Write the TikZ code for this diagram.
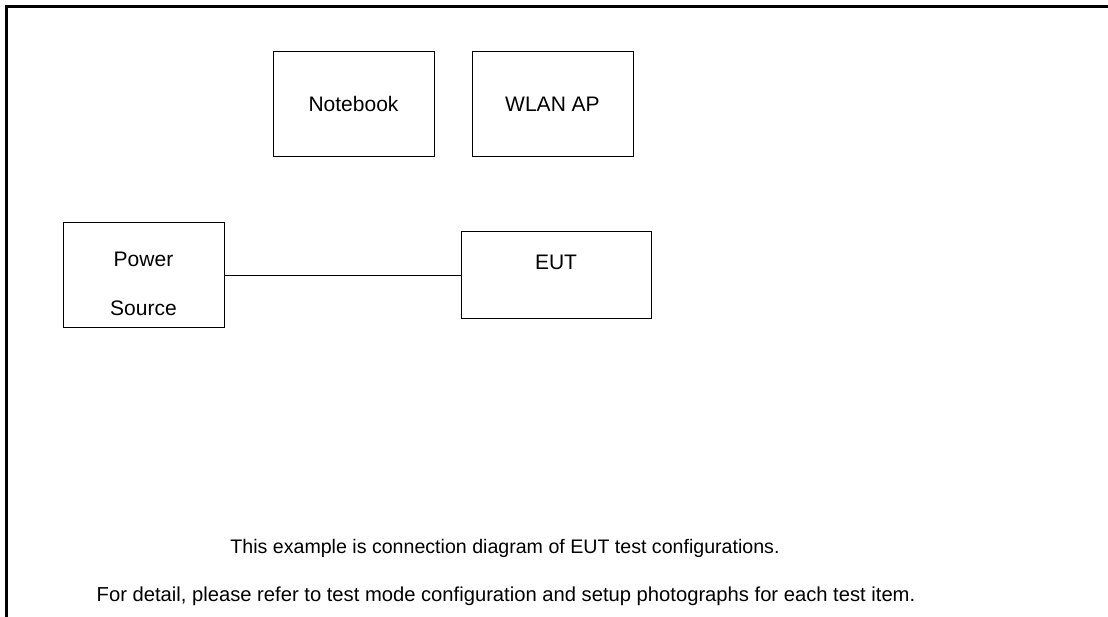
\documentclass[tikz,border=0pt]{standalone}
\usepackage{fontspec}
\setmainfont{Liberation Sans}

\begin{document}
\begin{tikzpicture}[x=1pt, y=-1pt, node distance = 199pt,
	box/.style = {draw, line width=1pt, minimum width=161pt, minimum height=105pt, inner sep=0pt, font=\fontsize{21}{49}\selectfont},
	note/.style = {anchor=base, inner sep=0pt, font=\fontsize{19.6}{24}\selectfont}]
				      \useasboundingbox (0,0) rectangle (1108,617);
				      \clip (0,0) rectangle (1108,617);
				      \draw[line width=2.5pt] (6.5,620) -- (6.5,6.5) -- (1112,6.5);
				      \node (nb)[box] at (353.5,104) {Notebook};
				      \node (ap)[box, right of = nb]  {WLAN AP};
				      \node (ps)[box, align=center] at (143.5,275.5)  {\rule{0pt}{32pt}Power\\Source};
				      \node (eut)[box, minimum width=190pt, minimum height=87pt, text height=14pt, text depth=25pt] at (556,275.5)  {EUT};
				      \draw[line width=1.5pt] (ps)--(eut);
				      \node (t1)[note] at (505,553) {This example is connection diagram of EUT test configurations.};
				      \node (t2)[note, font=\fontsize{20.2}{24}\selectfont] at (506,601) {For detail, please refer to test mode configuration and setup photographs for each test item.};
			      \end{tikzpicture}
\end{document}
